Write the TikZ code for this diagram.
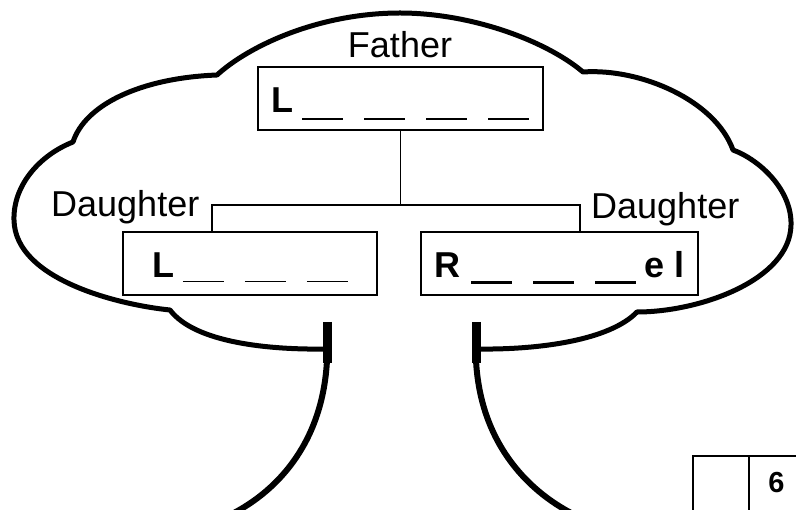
\documentclass[tikz,border=0pt]{standalone}
\usepackage{fontspec}
\setmainfont{Liberation Sans}
\usepackage{tikz}
\usetikzlibrary{calc}

\newcommand{\fillin}[2]{\rule[#1]{41pt}{#2}}

\begin{document}
\begin{tikzpicture}[x=1pt,y=-1pt,
    cloud/.style={line width=5pt, line join=round},
    trunk/.style={line width=6pt},
    answer/.style={draw, line width=1.5pt, minimum height=63pt, text height=30pt, text depth=1pt, inner sep=0pt, font=\bfseries\fontsize{36}{36}\selectfont},
    kin/.style={inner sep=0pt, font=\fontsize{36}{36}\selectfont},
    link/.style={line width=1.5pt}]
    \useasboundingbox (0,0) rectangle (796,510);

    % crown
    \draw[cloud] (327,349) .. controls (270,350) and (195,343) .. (170,310)
      .. controls (120,305) and (15,280) .. (14,220)
      .. controls (13,185) and (40,155) .. (73,142)
      .. controls (85,105) and (140,78) .. (217,75)
      .. controls (250,45) and (320,13) .. (400,13)
      .. controls (470,13) and (545,40) .. (583,72)
      .. controls (640,68) and (715,100) .. (733,150)
      .. controls (760,160) and (792,190) .. (791,225)
      .. controls (790,280) and (700,312) .. (637,312)
      .. controls (610,340) and (540,350) .. (476,349);

    % trunk
    \draw[line width=9pt] (327,322) -- (327,363);
    \draw[trunk] (327,360) .. controls (323,440) and (280,490) .. (230,515);
    \draw[line width=9pt] (476,322) -- (476,363);
    \draw[trunk] (476,360) .. controls (480,440) and (525,490) .. (575,515);

    \node[answer, minimum width=285pt] (father) at (400.5,98.5)
      {L\hspace{9pt}\fillin{-7pt}{2pt}\hspace{21pt}\fillin{-7pt}{2pt}\hspace{21pt}\fillin{-7pt}{2pt}\hspace{21pt}\fillin{-7pt}{2pt}};
    \node[kin, anchor=base] (fathername) at (400,58) {Father};

    \node[answer, minimum width=254pt] (lbox) at (250,263.5)
      {L\hspace{9pt}\fillin{-4.5pt}{1pt}\hspace{21pt}\fillin{-4.5pt}{1pt}\hspace{21pt}\fillin{-4.5pt}{1pt}};
    \node[answer, minimum width=277pt] (rbox) at (559.5,263.5)
      {R\hspace{11pt}\fillin{-6pt}{2.5pt}\hspace{21pt}\fillin{-6pt}{2.5pt}\hspace{21pt}\fillin{-6pt}{2.5pt}\hspace{8pt}e l};
    \node[kin, anchor=base west] (lname) at (51,217) {Daughter};
    \node[kin, anchor=base west] (rname) at (591,219) {Daughter};

    \coordinate (ljoin) at (212,205);
    \coordinate (rjoin) at (580,205);
    \draw[link] (father.south) -- (father.south |- ljoin);
    \draw[link] (lbox.north -| ljoin) -- (ljoin) -- (rjoin) -- (rbox.north -| rjoin);

    % score box
    \node[inner sep=0pt, anchor=base, font=\bfseries\fontsize{29}{29}\selectfont] (score) at (776.5,493) {6};
    \draw[link] (693,512) |- (798,456);
    \draw[link] (749,456) -- (749,512);
\end{tikzpicture}
\end{document}
